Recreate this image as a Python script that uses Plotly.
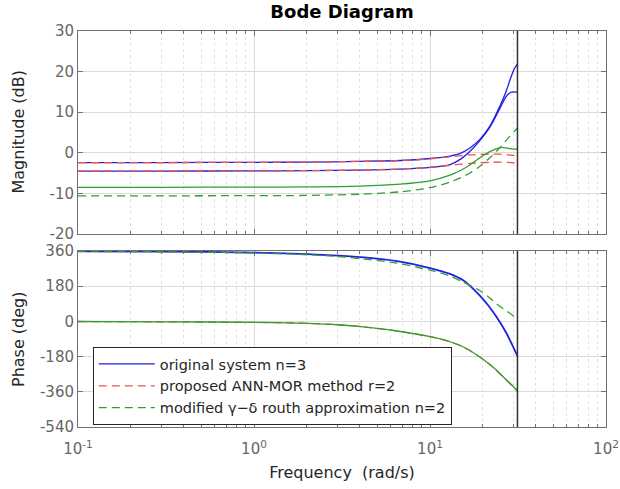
import plotly.graph_objects as go

# ---------------- data ----------------
freq_mag = [0.1, 0.3, 1, 2, 4, 6.8, 10, 13, 15, 17, 19.2, 21.9, 25, 27, 28.5, 30, 31.4]
orig_mag_1 = [-2.4, -2.4, -2.35, -2.3, -2.1, -1.9, -1.4, -0.8, -0.1, 1.3, 3.3, 6.6, 11.6, 15.0, 18.0, 20.5, 21.9]
orig_mag_2 = [-4.5, -4.5, -4.45, -4.4, -4.25, -4.0, -3.6, -2.9, -1.5, 0.5, 3.0, 6.3, 11.0, 13.8, 14.8, 15.0, 14.9]
ann_mag_1 = [-2.4, -2.4, -2.35, -2.3, -2.1, -1.9, -1.5, -1.0, -0.7, -0.5, -0.4, -0.3, -0.35, -0.45, -0.55, -0.65, -0.7]
ann_mag_2 = [-4.5, -4.5, -4.45, -4.4, -4.25, -4.0, -3.6, -3.1, -2.8, -2.6, -2.45, -2.35, -2.3, -2.35, -2.4, -2.45, -2.5]
routh_solid_mag = [-8.5, -8.5, -8.45, -8.4, -8.2, -7.7, -6.9, -5.5, -4.3, -2.9, -1.2, 0.3, 1.3, 1.2, 1.0, 0.9, 0.9]
routh_dash_mag = [-10.6, -10.6, -10.55, -10.5, -10.2, -9.6, -8.6, -7.2, -6.1, -4.9, -3.3, -1.2, 1.3, 3.0, 4.1, 5.2, 6.1]

freq_ph = [0.1, 0.3, 1, 2, 3, 4.2, 6.5, 10, 13, 15.5, 19.2, 21.5, 23.9, 27.3, 29.1, 31.4]
orig_phase = [358, 357, 352, 344, 336, 327, 308, 273, 243, 209, 132, 80, 22, -63, -114, -178]
routh_dash_phase = [358, 356, 350, 341, 332, 319, 298, 262, 232, 200, 158, 125, 90, 52, 35, 5]
ann_phase = [-0.5, -2, -5, -10, -17, -28, -49, -78, -104, -131, -182, -215, -251, -303, -327, -357]
routh_solid_phase = [-0.5, -2, -5, -10, -17, -28, -49, -78, -104, -131, -182, -215, -250, -301, -324, -355]

nyquist_freq = 31.4
x_tickvals = [0.1, 1, 10, 100]
x_ticktext = ["10<sup>-1</sup>", "10<sup>0</sup>", "10<sup>1</sup>", "10<sup>2</sup>"]
mag_ticks = [-20, -10, 0, 10, 20, 30]
mag_ticktext = ["-20", "-10", "0", "10", "20", "30"]
phase_ticks = [-540, -360, -180, 0, 180, 360]
phase_ticktext = ["-540", "-360", "-180", "0", "180", "360"]

names = ["original system n=3", "proposed ANN-MOR method r=2",
         "modified \u03b3\u2212\u03b4 routh approximation n=2"]

# ---------------- styles ----------------
BLUE = "#1f1fe6"
RED = "#f05050"
GREEN = "#2fa02f"
DASH = "8px,5px"
FONT = "DejaVu Sans"

W, H = 620, 489
L, R, T, B = 78, 14, 31, 62
TOP_DOM = [0.4874, 1]
BOT_DOM = [0, 0.4444]

fig = go.Figure()

def add(x, y, color, dash, ax, name=None, show=False, width=1.3):
    fig.add_trace(go.Scatter(
        x=x, y=y, mode="lines", name=name, showlegend=show, legendgroup=name,
        line=dict(color=color, width=width, dash=dash, shape="spline", smoothing=0.8),
        xaxis="x" if ax == 1 else "x2", yaxis="y" if ax == 1 else "y2",
        hoverinfo="skip"))

# magnitude
add(freq_mag, orig_mag_1, BLUE, "solid", 1, names[0], True)
add(freq_mag, orig_mag_2, BLUE, "solid", 1, names[0])
add(freq_mag, ann_mag_1, RED, DASH, 1, names[1], True)
add(freq_mag, ann_mag_2, RED, DASH, 1, names[1])
add(freq_mag, routh_solid_mag, GREEN, "solid", 1)
add(freq_mag, routh_dash_mag, GREEN, DASH, 1, names[2], True)
# phase
add(freq_ph, orig_phase, BLUE, "solid", 2, names[0], width=1.8)
add(freq_ph, ann_phase, RED, DASH, 2, names[1])
add(freq_ph, routh_solid_phase, GREEN, "solid", 2)
add(freq_ph, routh_dash_phase, GREEN, DASH, 2, names[2])

axis_common = dict(
    showline=True, linecolor="#707070", linewidth=1, mirror="allticks",
    ticks="inside", ticklen=5, tickcolor="#707070", automargin=False,
    showgrid=True, gridcolor="#dadada", gridwidth=1, zeroline=False,
    tickfont=dict(family=FONT, size=15, color="#666666"),
)
x_common = dict(axis_common, type="log", range=[-1, 2],
                tickvals=x_tickvals, ticktext=x_ticktext,
                minor=dict(dtick="D1", ticks="inside", ticklen=3, tickcolor="#707070",
                           showgrid=True, gridcolor="#e2e2e2", griddash="dot"))

fig.update_layout(
    width=W, height=H, autosize=False,
    margin=dict(l=L, r=R, t=T, b=B),
    paper_bgcolor="white", plot_bgcolor="white",
    font=dict(family=FONT, color="#262626"),
    title=dict(text="<b>Bode Diagram</b>", x=0.5, xref="paper", xanchor="center",
               y=1 - 12 / H, yref="container", yanchor="middle",
               font=dict(family=FONT, size=18, color="#000000")),
    xaxis=dict(x_common, domain=[0, 1], anchor="y", showticklabels=False),
    xaxis2=dict(x_common, domain=[0, 1], anchor="y2", matches="x",
                ticklabelstandoff=8,
                title=dict(text="Frequency  (rad/s)", standoff=9,
                           font=dict(family=FONT, size=16, color="#262626"))),
    yaxis=dict(axis_common, domain=TOP_DOM, anchor="x", range=[-20, 30],
               tickvals=mag_ticks, ticktext=mag_ticktext),
    yaxis2=dict(axis_common, domain=BOT_DOM, anchor="x2", range=[-540, 360],
                tickvals=phase_ticks, ticktext=phase_ticktext),
    legend=dict(x=0.028, y=0.202, xanchor="left", yanchor="top",
                bgcolor="white", bordercolor="#262626", borderwidth=1,
                font=dict(family=FONT, size=14.5, color="#262626"),
                itemwidth=56, tracegroupgap=0),
    showlegend=True,
)

# y-axis titles as rotated text, fixed position like the reference
ytitle_x = (18 - L) / (W - L - R)
for text, dom in (("Magnitude (dB)", TOP_DOM), ("Phase (deg)", BOT_DOM)):
    fig.add_annotation(text=text, xref="paper", yref="paper", x=ytitle_x,
                       y=(dom[0] + dom[1]) / 2, textangle=-90, showarrow=False,
                       xanchor="center", yanchor="middle",
                       font=dict(family=FONT, size=16, color="#262626"))

# Nyquist frequency line in both panels
fig.add_shape(type="line", xref="x", yref="y domain", x0=nyquist_freq, x1=nyquist_freq,
              y0=0, y1=1, line=dict(color="#303030", width=1.5))
fig.add_shape(type="line", xref="x2", yref="y2 domain", x0=nyquist_freq, x1=nyquist_freq,
              y0=0, y1=1, line=dict(color="#303030", width=1.5))

fig.write_html("out.html", config={"displayModeBar": False},
               post_script="document.body.style.margin='0';document.body.style.overflow='hidden';")
